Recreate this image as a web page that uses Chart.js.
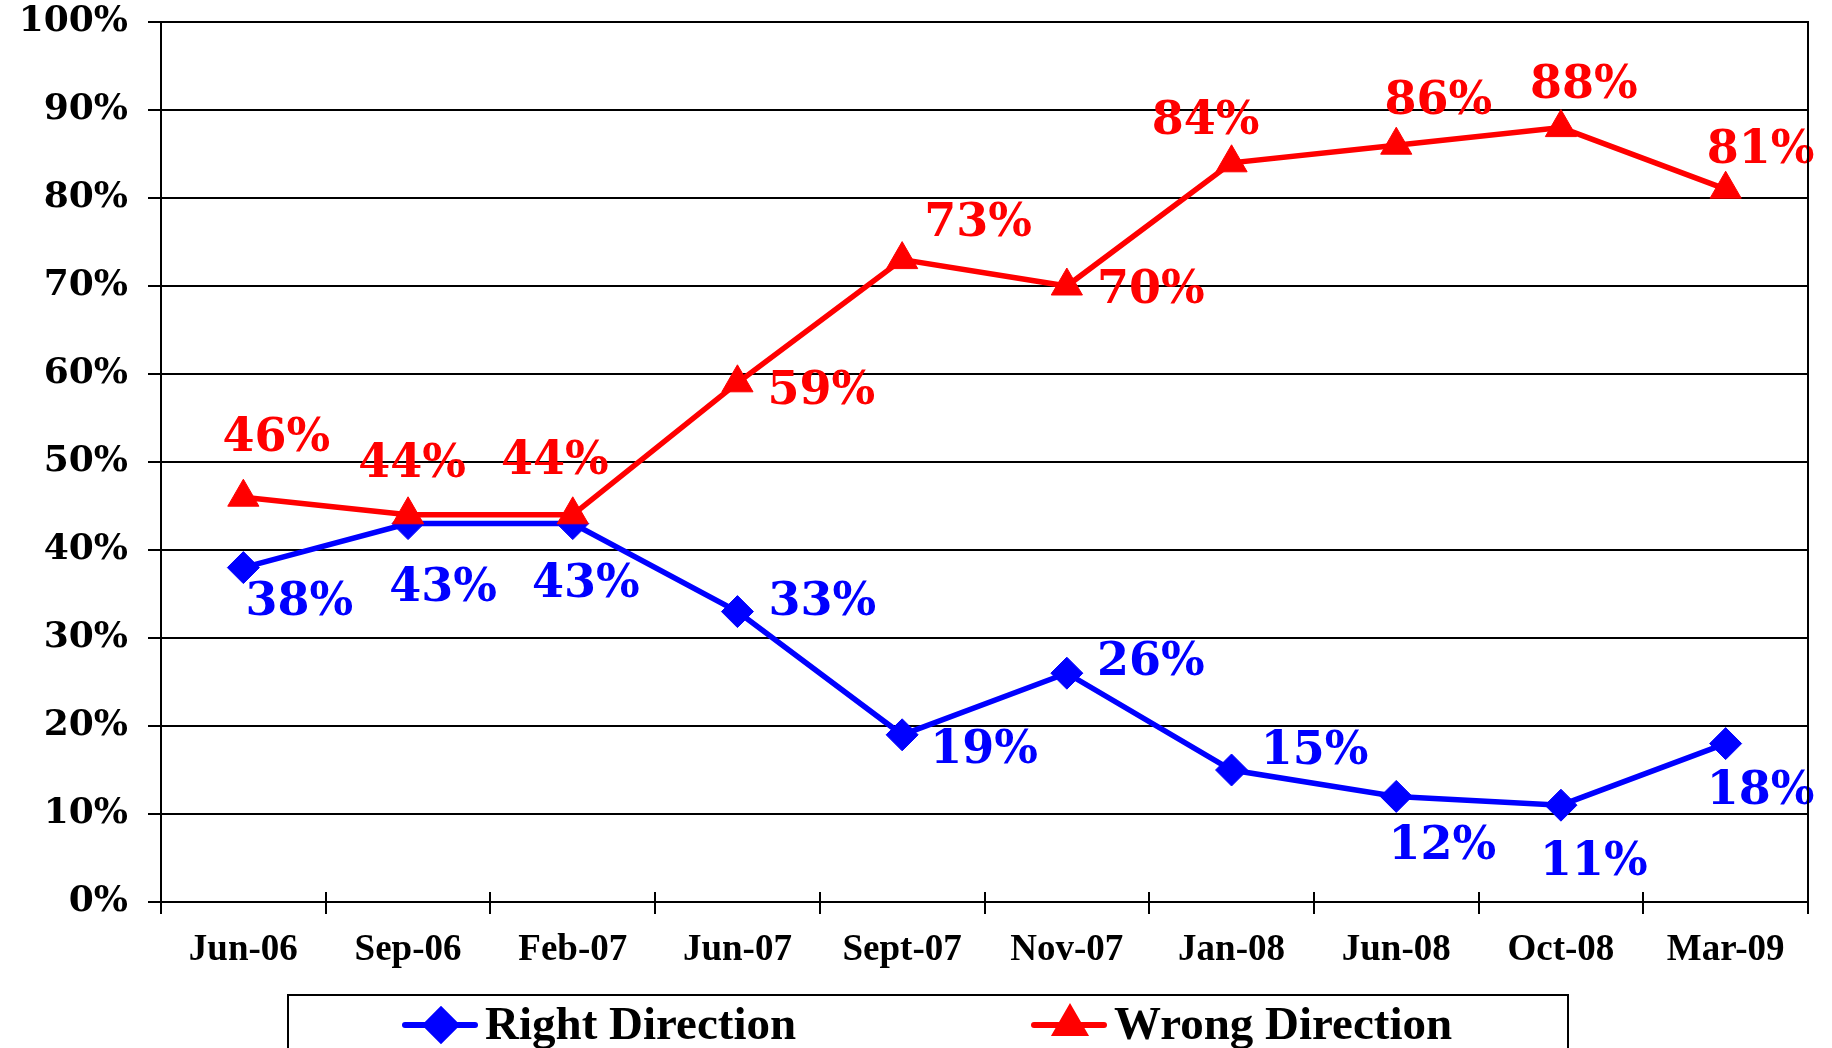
<!DOCTYPE html>
<html>
<head>
<meta charset="utf-8">
<script src="https://cdn.jsdelivr.net/npm/chart.js@4.4.1/dist/chart.umd.min.js"></script>
<style>
  html, body { margin: 0; padding: 0; background: #fff; }
  #wrap { width: 1832px; height: 1048px; overflow: hidden; }
</style>
</head>
<body>
<div id="wrap"><canvas id="c" width="1832" height="1048"></canvas></div>
<script>
// ---- data ----
const categories = ["Jun-06", "Sep-06", "Feb-07", "Jun-07", "Sept-07", "Nov-07", "Jan-08", "Jun-08", "Oct-08", "Mar-09"];
const rightDirection = [38, 43, 43, 33, 19, 26, 15, 12, 11, 18];
const wrongDirection = [46, 44, 44, 59, 73, 70, 84, 86, 88, 81];
const yTickValues = [0, 10, 20, 30, 40, 50, 60, 70, 80, 90, 100];
const seriesNames = ["Right Direction", "Wrong Direction"];

// ---- label placement (style, not data) ----
const rightLabelOffsets = [[56,30],[35,60],[13,56],[85,-14],[82,11],[84,-15],[83,-23],[46,46],[33,53],[35,43]];
const wrongLabelOffsets = [[33,-63],[4,-55],[-18,-58],[84,4],[76,-41],[84,0],[-26,-46],[42,-48],[23,-47],[35,-43]];
const labelBaselineShift = 5;

const BLUE = '#0000FF';
const RED = '#FF0000';
const labelFont = 'bold 46px "DejaVu Serif"';

const dataLabels = {
  id: 'dataLabels',
  afterDatasetsDraw(chart) {
    const ctx = chart.ctx;
    ctx.save();
    ctx.font = labelFont;
    ctx.textAlign = 'center';
    ctx.textBaseline = 'middle';
    chart.data.datasets.forEach((ds, di) => {
      const meta = chart.getDatasetMeta(di);
      const offs = ds.label === seriesNames[0] ? rightLabelOffsets : wrongLabelOffsets;
      ctx.fillStyle = ds.borderColor;
      meta.data.forEach((pt, i) => {
        ctx.fillText(ds.data[i] + '%', pt.x + offs[i][0], pt.y + offs[i][1] + labelBaselineShift);
      });
    });
    ctx.restore();
  }
};

const frame = {
  id: 'frame',
  afterDraw(chart) {
    const ctx = chart.ctx;
    const a = chart.chartArea;
    const xs = chart.scales.x;
    ctx.save();
    ctx.strokeStyle = '#000';
    ctx.lineWidth = 2;
    // right border
    ctx.beginPath();
    ctx.moveTo(a.right, a.top - 1);
    ctx.lineTo(a.right, a.bottom + 12);
    ctx.stroke();
    // inner part of x-axis tick marks
    const n = categories.length;
    const half = (xs.getPixelForValue(1) - xs.getPixelForValue(0)) / 2;
    for (let i = 0; i <= n; i++) {
      const x = Math.round(xs.getPixelForValue(Math.min(i, n - 1)) + (i === n ? half : -half));
      ctx.beginPath();
      ctx.moveTo(x, a.bottom - 10);
      ctx.lineTo(x, a.bottom);
      ctx.stroke();
    }
    // legend box
    ctx.lineWidth = 2;
    ctx.strokeRect(288, 995, 1280, 90);
    const items = [
      {x0: 405, color: BLUE, style: 'rectRot', r: 15, text: seriesNames[0]},
      {x0: 1034, color: RED, style: 'triangle', r: 16, text: seriesNames[1]}
    ];
    const ly = 1025;
    items.forEach(it => {
      ctx.strokeStyle = it.color;
      ctx.lineWidth = 6;
      ctx.lineCap = 'round';
      ctx.beginPath();
      ctx.moveTo(it.x0, ly);
      ctx.lineTo(it.x0 + 70, ly);
      ctx.stroke();
      ctx.fillStyle = it.color;
      Chart.helpers.drawPoint(ctx, {pointStyle: it.style, radius: it.r, borderWidth: 1}, it.x0 + 36, ly);
      ctx.fill();
      ctx.fillStyle = '#000';
      ctx.font = 'bold 47px "Liberation Serif"';
      ctx.textAlign = 'left';
      ctx.textBaseline = 'middle';
      ctx.fillText(it.text, it.x0 + 80, ly + 2);
    });
    ctx.restore();
  }
};

new Chart(document.getElementById('c'), {
  type: 'line',
  data: {
    labels: categories,
    datasets: [
      {
        label: seriesNames[0],
        data: rightDirection,
        borderColor: BLUE,
        backgroundColor: BLUE,
        borderWidth: 5.5,
        pointStyle: 'rectRot',
        pointRadius: 16,
        pointHoverRadius: 16,
        pointBackgroundColor: BLUE,
        pointBorderColor: BLUE,
        pointBorderWidth: 1,
        tension: 0,
        order: 1
      },
      {
        label: seriesNames[1],
        data: wrongDirection,
        borderColor: RED,
        backgroundColor: RED,
        borderWidth: 5.5,
        pointStyle: 'triangle',
        pointRadius: 18,
        pointHoverRadius: 18,
        pointBackgroundColor: RED,
        pointBorderColor: RED,
        pointBorderWidth: 1,
        tension: 0,
        order: 0
      }
    ]
  },
  options: {
    responsive: false,
    devicePixelRatio: 1,
    animation: false,
    layout: { padding: { top: 22, right: 24, left: 0, bottom: 0 } },
    plugins: { legend: { display: false }, tooltip: { enabled: false } },
    scales: {
      x: {
        offset: true,
        grid: { offset: true, drawOnChartArea: false, drawTicks: true, tickLength: 12, color: '#000', lineWidth: 2 },
        border: { display: true, color: '#000', width: 2 },
        ticks: { color: '#000', font: { family: 'Liberation Serif', weight: 'bold', size: 37 }, padding: 14, maxRotation: 0, autoSkip: false },
        afterFit(s) { s.height = 146; s.paddingLeft = 0; s.paddingRight = 0; }
      },
      y: {
        min: 0, max: 100,
        afterBuildTicks(s) { s.ticks = yTickValues.map(v => ({value: v})); },
        grid: { color: '#000', lineWidth: 2, tickLength: 13 },
        border: { display: true, color: '#000', width: 2 },
        ticks: { color: '#000', font: { family: 'DejaVu Serif', weight: 'bold', size: 36 }, padding: 20, callback: v => v + '%' },
        afterFit(s) { s.width = 161; s.paddingTop = 0; s.paddingBottom = 0; }
      }
    }
  },
  plugins: [dataLabels, frame]
});
</script>
</body>
</html>
